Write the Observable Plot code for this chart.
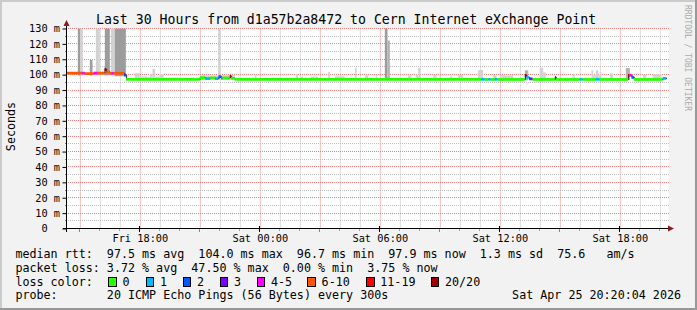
<!DOCTYPE html>
<html><head><meta charset="utf-8">
<script src="https://cdn.jsdelivr.net/npm/d3@7"></script>
<script src="https://cdn.jsdelivr.net/npm/@observablehq/plot@0.6"></script>
<style>
html,body{margin:0;padding:0;background:#f2f2f2;overflow:hidden}
svg text{white-space:pre}
</style>
</head><body><div id="chart"></div>
<script>
// ---------- texts ----------
const title = "Last 30 Hours from d1a57b2a8472 to Cern Internet eXchange Point";
const yUnitLabel = "Seconds";
const watermark = "RRDTOOL / TOBI OETIKER";
const legendRtt = "median rtt:  97.5 ms avg  104.0 ms max  96.7 ms min  97.9 ms now  1.3 ms sd  75.6   am/s";
const legendLoss = "packet loss: 3.72 % avg  47.50 % max  0.00 % min  3.75 % now";
const legendLossColor = "loss color:";
const legendProbe = "probe:       20 ICMP Echo Pings (56 Bytes) every 300s";
const timestamp = "Sat Apr 25 20:20:04 2026";

// ---------- axes ----------
const rangeStart = "Fri 14:20";
const rangeEnd = "Sat 20:20";
const yTicks = [0, 10, 20, 30, 40, 50, 60, 70, 80, 90, 100, 110, 120, 130];
const yTickLabels = ["0\u00a0\u00a0", "10 m", "20 m", "30 m", "40 m", "50 m", "60 m", "70 m", "80 m", "90 m", "100 m", "110 m", "120 m", "130 m"];
const xTickTimes = ["Fri 18:00", "Sat 00:00", "Sat 06:00", "Sat 12:00", "Sat 18:00"];
const xTickLabels = ["Fri 18:00", "Sat 00:00", "Sat 06:00", "Sat 12:00", "Sat 18:00"];

// ---------- loss legend ----------
const lossLabels = ["0", "1", "2", "3", "4-5", "6-10", "11-19", "20/20"];
const lossColors = ["#26ff00", "#00b8ff", "#0059ff", "#7e00ff", "#ff00ff", "#ff5500", "#ff0000", "#a00000"];

// ---------- smoke (ping spread) ----------
const smokeFrom = ["Fri 14:54","Fri 15:01","Fri 15:30","Fri 15:48","Fri 16:15","Fri 16:33","Fri 16:45",
  "Fri 17:45","Fri 18:00","Fri 18:30","Fri 18:38","Fri 18:46","Fri 19:00","Fri 21:00","Fri 21:15","Fri 21:55","Fri 22:02","Fri 23:45",
  "Sat 01:48","Sat 02:00","Sat 02:32","Sat 03:25","Sat 03:45","Sat 04:45","Sat 05:15","Sat 05:48","Sat 06:15","Sat 06:23",
  "Sat 07:25","Sat 07:48","Sat 07:55","Sat 08:40","Sat 09:30","Sat 09:55","Sat 10:55","Sat 11:40","Sat 12:00","Sat 13:15",
  "Sat 14:00","Sat 14:10","Sat 15:38","Sat 16:35","Sat 16:40","Sat 16:48","Sat 16:55","Sat 17:00","Sat 17:30","Sat 18:18","Sat 19:10","Sat 19:38"];
const smokeTo = ["Fri 15:01","Fri 15:09","Fri 15:38","Fri 16:00","Fri 16:30","Fri 16:45","Fri 17:18",
  "Fri 18:00","Fri 18:30","Fri 18:38","Fri 18:46","Fri 19:00","Fri 19:12","Fri 21:15","Fri 21:55","Fri 22:02","Fri 22:45","Fri 23:50",
  "Sat 01:55","Sat 02:09","Sat 02:55","Sat 03:30","Sat 04:15","Sat 04:50","Sat 05:25","Sat 05:52","Sat 06:23","Sat 06:30",
  "Sat 07:35","Sat 07:55","Sat 08:02","Sat 08:50","Sat 09:38","Sat 10:10","Sat 11:10","Sat 11:50","Sat 12:40","Sat 13:25",
  "Sat 14:10","Sat 14:18","Sat 15:45","Sat 16:40","Sat 16:48","Sat 16:55","Sat 17:00","Sat 17:05","Sat 17:40","Sat 18:30","Sat 19:20","Sat 20:05"];
const smokeLow = [99.5,99.5,99.5,99.5,99.5,99.5,99.0,
  96.5,96.5,96.5,96.5,96.5,96.5,96.5,96.5,96.5,96.5,96.5,
  96.5,96.5,96.5,96.5,96.5,96.5,96.5,96.5,96.5,96.5,
  96.5,96.5,96.5,96.5,96.5,96.5,96.5,96.5,96.5,96.5,
  96.5,96.5,96.5,96.5,96.5,96.5,96.5,96.5,96.5,96.5,96.5,96.5];
const smokeHigh = [130,130,109.5,130,130,130,130,
  101.0,98.8,100.5,103.8,98.8,100.4,99.7,99.5,130,99.7,99.5,
  100.6,98.8,98.8,101.8,99.0,104.5,99.5,99.5,130,122.2,
  99.5,100.0,104.3,99.5,98.8,99.5,103.0,99.5,99.5,102.8,
  104.5,101.5,100.5,102.8,100.0,102.8,100.0,101.5,100.8,104.3,100.0,100.3];
const smokeShade = ["dark","light","dark","light","dark","light","dark",
  "light","light","light","light","light","light","light","light","light","light","light",
  "light","light","light","light","light","light","light","light","dark","mid",
  "light","light","light","light","light","light","light","light","light","mid",
  "light","light","light","light","light","light","light","light","light","mid","light","light"];
const shadeColors = {light: "#d2d2d2", mid: "#b2b2b2", dark: "#9c9c9c"};

// ---------- median rtt (step segments, colored by loss) ----------
const medianFrom = ["Fri 14:20","Fri 15:07","Fri 15:15","Fri 15:41","Fri 15:53","Fri 16:14","Fri 16:19","Fri 16:30","Fri 16:36","Fri 16:41",
  "Fri 17:13","Fri 17:19","Fri 21:00","Fri 21:16","Fri 21:31","Fri 21:46","Fri 21:56","Fri 22:04","Fri 22:08","Fri 22:30","Fri 22:34","Fri 22:45",
  "Sat 11:05","Sat 11:15","Sat 11:25","Sat 11:32","Sat 11:45","Sat 11:52","Sat 13:15","Sat 13:20","Sat 13:28","Sat 13:38",
  "Sat 14:45","Sat 14:48","Sat 16:00","Sat 16:08","Sat 16:48","Sat 16:58","Sat 18:25","Sat 18:28","Sat 18:35","Sat 18:42","Sat 20:08"];
const medianValue = [101.3,101.3,101.0,101.3,101.3,103.8,102.0,101.2,101.2,101.2,
  100.0,97.3,98.4,97.8,98.2,97.8,99.0,98.0,98.2,99.2,98.0,97.2,
  97.3,97.2,97.3,97.2,97.3,97.2,99.8,98.6,97.6,97.2,
  98.6,97.2,97.3,97.2,97.3,97.2,99.8,100.0,98.6,97.2,97.9];
const medianLoss = ["6-10","4-5","6-10","4-5","6-10","20/20","6-10","6-10","4-5","6-10",
  "2","0","0","1","0","1","2","1","0","20/20","0","0",
  "1","0","1","0","1","0","20/20","1","3","0",
  "20/20","0","1","0","1","0","20/20","4-5","2","0","1"];

// ---------- build ----------
const dayDate = {Fri: "2026-04-24", Sat: "2026-04-25"};
const parse = s => new Date(`${dayDate[s.slice(0, 3)]}T${s.slice(4)}:00Z`);
const t0 = parse(rangeStart), t1 = parse(rangeEnd);
const lossColor = l => lossColors[lossLabels.indexOf(l)];

const smoke = smokeFrom.map((f, i) => ({x1: parse(f), x2: parse(smokeTo[i]), y1: smokeLow[i], y2: smokeHigh[i], fill: shadeColors[smokeShade[i]]}));
const median = medianFrom.map((f, i) => ({x1: parse(f), x2: parse(i + 1 < medianFrom.length ? medianFrom[i + 1] : rangeEnd), y: medianValue[i], c: lossColor(medianLoss[i])}));
const medianSteps = median.map(d => ({x: d.x1, y: d.y})).concat([{x: t1, y: medianValue[medianValue.length - 1]}]);

// hourly grid positions (every hour between start and end)
const HOUR = 3600000;
const hours = [];
for (let t = Math.ceil(+t0 / HOUR) * HOUR; t < +t1; t += HOUR) hours.push(new Date(t));
const hoursMajor = hours.filter(h => h.getUTCHours() % 3 === 0);
const hoursMinor = hours.filter(h => h.getUTCHours() % 3 !== 0);
const yMinor = d3.range(5, 130, 10);
const yMajor = yTicks.filter(v => v > 0);

const W = 697, H = 310;
const mono = "'DejaVu Sans Mono', monospace";
const xTickDates = xTickTimes.map(parse);

const chart = Plot.plot({
  width: W, height: H,
  marginLeft: 66.5, marginRight: 30.5, marginTop: 28.5, marginBottom: 81.5,
  style: {fontFamily: mono, fontSize: "10.3px", background: "#f2f2f2", color: "black", overflow: "visible"},
  color: {type: "identity"},
  x: {type: "utc", domain: [t0, t1], ticks: xTickDates, tickFormat: d => xTickLabels[xTickDates.findIndex(t => +t === +d)], tickSize: 0, tickPadding: 5.2, label: null},
  y: {domain: [0, 130], ticks: yTicks, tickFormat: d => yTickLabels[yTicks.indexOf(d)], tickSize: 4, tickPadding: 3, label: null},
  marks: [
    Plot.rect([0], {x1: () => t0, x2: () => t1, y1: () => 0, y2: () => 130, fill: "white", insetRight: -2, ariaLabel: "canvas"}),
    Plot.ruleX(hoursMinor, {stroke: "#dedede", strokeWidth: 1}),
    Plot.ruleX(hoursMajor, {stroke: "#f6bcbc", strokeWidth: 1}),
    Plot.rect(smoke, {x1: "x1", x2: "x2", y1: "y1", y2: "y2", fill: "fill", ariaLabel: "smoke"}),
    Plot.line(medianSteps, {x: "x", y: "y", curve: "step-after", stroke: "#202020", strokeWidth: 1}),
    Plot.ruleY(median, {x1: "x1", x2: "x2", y: "y", stroke: "c", strokeWidth: 2.8})
  ]
});
document.getElementById("chart").appendChild(chart);

// ---------- decorations via the plot's scales ----------
const sx = chart.scale("x"), sy = chart.scale("y");
const x0 = sx.apply(t0), xEnd = sx.apply(t1);
const X = d => { const v = sx.apply(d); return Number.isFinite(v) ? v : x0 + (xEnd - x0) * (+d - +t0) / (+t1 - +t0); };
const Y = v => sy.apply(v);
const svg = d3.select(chart);
const yb = Y(0), yt = Y(130);
const px = v => Math.floor(v) + 0.5;
const NS = "http://www.w3.org/2000/svg";

// dotted horizontal-line patterns (2x2 tiles)
const defs = svg.insert("defs", ":first-child");
const mkPat = (id, color) => {
  const p = defs.append("pattern").attr("id", id).attr("patternUnits", "userSpaceOnUse").attr("x", 0).attr("y", 0).attr("width", 2).attr("height", 2);
  p.append("rect").attr("x", 0).attr("y", 0).attr("width", 1).attr("height", 2).attr("fill", color);
};
mkPat("hMinor", "#c0c0c0");
mkPat("hMajor", "#f08080");

// horizontal grid, inserted below the smoke
let smokeNode = chart.querySelector('g[aria-label="smoke"]');
if (!smokeNode) smokeNode = chart.querySelectorAll('g[aria-label="rect"]')[1] || null;
const grid = d3.select(chart.insertBefore(document.createElementNS(NS, "g"), smokeNode)).attr("shape-rendering", "crispEdges");
const gx1 = Math.ceil(x0), gx2 = Math.round(xEnd) + 2;
const hLine = (v, pat) => grid.append("rect").attr("x", gx1).attr("y", Math.floor(Y(v))).attr("width", gx2 - gx1).attr("height", 1).attr("fill", `url(#${pat})`);
yMinor.forEach(v => hLine(v, "hMinor"));
yMajor.forEach(v => hLine(v, "hMajor"));

// axis ticks
const g = svg.append("g").attr("shape-rendering", "crispEdges");
hoursMinor.forEach(h => g.append("line").attr("x1", px(X(h))).attr("x2", px(X(h))).attr("y1", yb).attr("y2", yb + 2.5).attr("stroke", "#a0a0a0"));
hoursMajor.forEach(h => g.append("line").attr("x1", px(X(h))).attr("x2", px(X(h))).attr("y1", yb).attr("y2", yb + 3).attr("stroke", "#e06060"));
xTickDates.forEach(h => g.append("line").attr("x1", px(X(h))).attr("x2", px(X(h))).attr("y1", yb - 3).attr("y2", yb + 3).attr("stroke", "#000"));
yMinor.forEach(v => g.append("line").attr("x1", x0 - 2).attr("x2", x0).attr("y1", px(Y(v))).attr("y2", px(Y(v))).attr("stroke", "#808080"));
// axis lines
g.append("line").attr("x1", x0).attr("x2", x0).attr("y1", yb + 3).attr("y2", yt - 3).attr("stroke", "#000");
g.append("line").attr("x1", x0 - 4).attr("x2", xEnd + 2).attr("y1", yb).attr("y2", yb).attr("stroke", "#000");
// arrows
svg.append("path").attr("d", `M${x0 - 3},${yt - 2.5}L${x0 + 3},${yt - 2.5}L${x0},${yt - 8.5}Z`).attr("fill", "#8b1a1a");
svg.append("path").attr("d", `M${xEnd + 1.5},${yb - 3}L${xEnd + 1.5},${yb + 3}L${xEnd + 7.5},${yb}Z`).attr("fill", "#8b1a1a");

// frame shading
svg.append("path").attr("d", `M0,0H${W}V2H2V${H}H0Z`).attr("fill", "#cbcbcb");
svg.append("path").attr("d", `M${W},${H}H0V${H - 2}H${W - 2}V0H${W}Z`).attr("fill", "#999999");

// title, unit, watermark
const txt = (x, y, s, size, opts = {}) => svg.append("text").attr("x", x).attr("y", y).attr("font-family", mono).attr("font-size", size).attr("fill", opts.fill || "#000").attr("text-anchor", opts.anchor || "start").text(s);
txt(96, 24, title, "13.2px");
svg.append("text").attr("transform", `translate(14.5,${(yb + yt) / 2 - 2}) rotate(-90)`).attr("text-anchor", "middle").attr("font-family", mono).attr("font-size", "11.7px").text(yUnitLabel);
svg.append("text").attr("transform", "translate(685,5) rotate(90)").attr("text-anchor", "start").attr("font-family", mono).attr("font-size", "8px").attr("fill", "#aaaaaa").text(watermark);

// legend
const lx = 15.4, lfs = "11.7px";
txt(lx, 258, legendRtt, lfs);
txt(lx, 272, legendLoss, lfs);
txt(lx, 285.5, legendLossColor, lfs);
txt(lx, 299, legendProbe, lfs);
txt(681, 299, timestamp, lfs, {anchor: "end"});
const boxX = [108.3, 145.7, 182.7, 219.7, 256.7, 307.3, 366, 430.7];
lossLabels.forEach((l, i) => {
  svg.append("rect").attr("x", boxX[i] + 0.5).attr("y", 277.5).attr("width", 7.5).attr("height", 8.5)
    .attr("fill", lossColors[i]).attr("stroke", "#000").attr("stroke-width", 1).attr("shape-rendering", "crispEdges");
  txt(boxX[i] + 14.3, 285.5, l, lfs);
});
</script>
</body></html>
